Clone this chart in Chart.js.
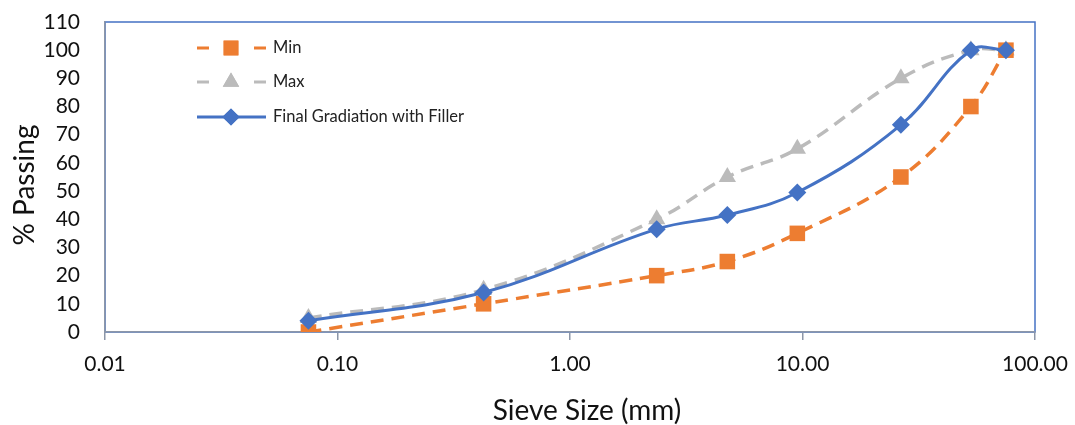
<!DOCTYPE html>
<html>
<head>
<meta charset="utf-8">
<script src="https://cdn.jsdelivr.net/npm/chart.js@4/dist/chart.umd.min.js"></script>
<style>
  body { margin: 0; background: #fff; }
  #wrap { width: 1075px; height: 425px; position: relative; }
</style>
</head>
<body>
<div id="wrap"><canvas id="gradChart"></canvas></div>
<script>
// sieve sizes in mm and % passing
var sieveSizes = [0.075, 0.425, 2.36, 4.75, 9.5, 26.5, 53, 75];
var minPassing = [0, 10, 20, 25, 35, 55, 80, 100];
var maxPassing = [5, 15, 40, 55, 65, 90, 100, 100];
var finalPassing = [4, 14, 36.5, 41.5, 49.5, 73.5, 100, 100];
var xTicks = [0.01, 0.1, 1, 10, 100];
var yTicks = [0, 10, 20, 30, 40, 50, 60, 70, 80, 90, 100, 110];
var xTitle = 'Sieve Size (mm)';
var yTitle = '% Passing';

var FONT = 'Lato, "Open Sans", sans-serif';
var axisGray = '#8C96A8';

function toPoints(vals) {
    return sieveSizes.map(function(s, i){ return { x: s, y: vals[i] }; });
}

var series = [
    { label: 'Min', data: minPassing, color: '#ED7D31', style: 'rect', radius: 11, dash: [13, 8], order: 2 },
    { label: 'Max', data: maxPassing, color: '#BBBBBB', style: 'triangle', radius: 10, dash: [13, 8], order: 3 },
    { label: 'Final Gradiation with Filler', data: finalPassing, color: '#4472C4', style: 'rectRot', radius: 9, dash: [], order: 1 }
];

// blue frame around the plot area
var frame = {
    id: 'frame',
    beforeDraw: function(chart) {
        var a = chart.chartArea, ctx = chart.ctx;
        ctx.save();
        ctx.strokeStyle = '#4472C4';
        ctx.lineWidth = 1.5;
        ctx.strokeRect(a.left, a.top, a.right - a.left, a.bottom - a.top);
        ctx.restore();
    }
};

// axis titles, placed a bit off-centre like the original
var axisTitles = {
    id: 'axisTitles',
    afterDraw: function(chart) {
        var ctx = chart.ctx;
        ctx.save();
        ctx.fillStyle = '#111';
        ctx.font = '28px ' + FONT;
        ctx.textAlign = 'center';
        ctx.textBaseline = 'middle';
        ctx.fillText(xTitle, 587, 411);
        ctx.translate(25, 185);
        ctx.rotate(-Math.PI / 2);
        ctx.fillText(yTitle, 0, 0);
        ctx.restore();
    }
};

// legend sits inside the plot, top left
var innerLegend = {
    id: 'innerLegend',
    afterDraw: function(chart) {
        var ctx = chart.ctx;
        var x0 = 197, x1 = 266, mid = 231;
        var rows = [48, 82, 117];
        series.forEach(function(s, i){
            var y = rows[i];
            ctx.save();
            ctx.strokeStyle = s.color;
            ctx.lineWidth = 3;
            ctx.beginPath();
            if (s.dash.length) {
                ctx.moveTo(x0, y); ctx.lineTo(x0 + 12, y);
                ctx.moveTo(x1 - 12, y); ctx.lineTo(x1, y);
            } else {
                ctx.moveTo(x0, y); ctx.lineTo(x1, y);
            }
            ctx.stroke();
            ctx.fillStyle = s.color;
            Chart.helpers.drawPoint(ctx, { pointStyle: s.style, radius: s.radius * 0.95, rotation: 0, borderWidth: 0 }, mid, y);
            ctx.fill();
            ctx.fillStyle = '#222';
            ctx.font = '16.5px ' + FONT;
            ctx.textBaseline = 'middle';
            ctx.fillText(s.label, 273, y);
            ctx.restore();
        });
    }
};

// the plot box is fixed, so drop the padding the scales ask for
function noScalePadding(scale) {
    scale.paddingTop = 0;
    scale.paddingBottom = 0;
    scale.paddingLeft = 0;
    scale.paddingRight = 0;
}

var ctx = document.getElementById('gradChart').getContext('2d');
var gradChart = new Chart(ctx, {
    type: 'scatter',
    data: {
        datasets: series.map(function(s){
            return {
                label: s.label,
                data: toPoints(s.data),
                showLine: true,
                tension: 0.4,
                borderColor: s.color,
                backgroundColor: s.color,
                borderWidth: s.dash.length ? 3.5 : 3,
                borderDash: s.dash,
                pointStyle: s.style,
                pointRadius: s.radius,
                pointBorderWidth: 0,
                order: s.order
            };
        })
    },
    options: {
        responsive: true,
        maintainAspectRatio: false,
        animation: false,
        layout: { autoPadding: false, padding: { top: 22, right: 40, left: 0, bottom: 0 } },
        plugins: { legend: { display: false }, tooltip: { enabled: false } },
        scales: {
            x: {
                type: 'logarithmic',
                min: 0.01,
                max: 100,
                afterBuildTicks: function(scale){ scale.ticks = xTicks.map(function(v){ return { value: v }; }); },
                afterFit: function(scale){ scale.height = 93; noScalePadding(scale); },
                ticks: {
                    color: '#111',
                    font: { family: FONT, size: 21 },
                    padding: 12,
                    maxRotation: 0,
                    autoSkip: false,
                    callback: function(v){ return Number(v).toFixed(2); }
                },
                grid: { drawOnChartArea: false, drawTicks: true, tickLength: 8, color: axisGray, lineWidth: 1.5 },
                border: { color: axisGray, width: 1.5 },
                title: { display: false }
            },
            y: {
                min: 0,
                max: 110,
                afterBuildTicks: function(scale){ scale.ticks = yTicks.map(function(v){ return { value: v }; }); },
                afterFit: function(scale){ scale.width = 105; noScalePadding(scale); },
                ticks: { color: '#111', font: { family: FONT, size: 21 }, padding: 25, autoSkip: false },
                grid: { display: false, drawTicks: false },
                border: { color: axisGray, width: 1.5 },
                title: { display: false }
            }
        }
    },
    plugins: [frame, axisTitles, innerLegend]
});
</script>
</body>
</html>
